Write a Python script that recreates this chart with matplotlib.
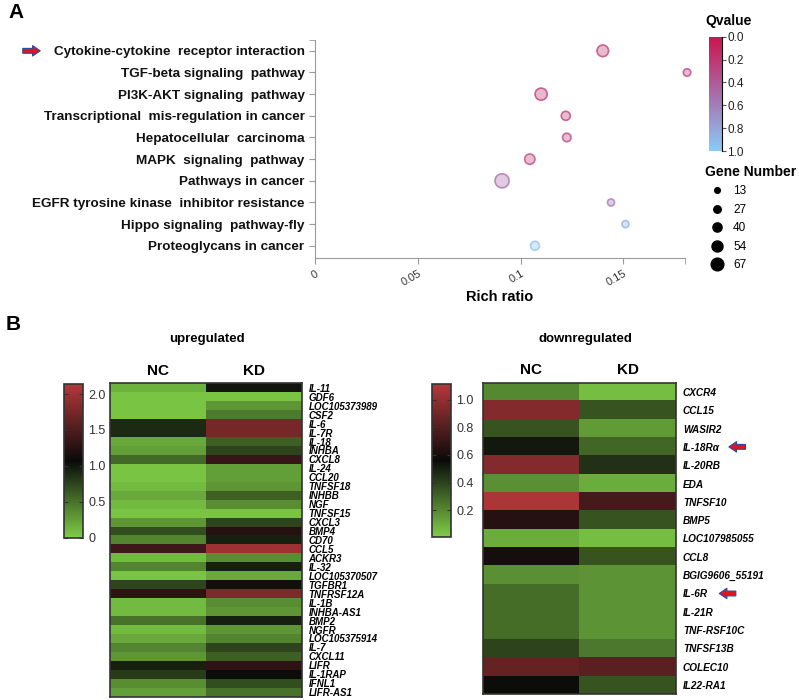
import numpy as np
import matplotlib
matplotlib.use('Agg')
import matplotlib.pyplot as plt
from matplotlib.colors import LinearSegmentedColormap, Normalize, to_rgba
from matplotlib.lines import Line2D

plt.rcParams['font.family'] = ['Liberation Sans', 'DejaVu Sans']

# ---- panel A data ----
terms = ['Cytokine-cytokine  receptor interaction', 'TGF-beta signaling  pathway',
         'PI3K-AKT signaling  pathway', 'Transcriptional  mis-regulation in cancer',
         'Hepatocellular  carcinoma', 'MAPK  signaling  pathway', 'Pathways in cancer',
         'EGFR tyrosine kinase  inhibitor resistance', 'Hippo signaling  pathway-fly',
         'Proteoglycans in cancer']
rich_ratio = [0.140, 0.181, 0.110, 0.122, 0.1225, 0.1045, 0.091, 0.144, 0.151, 0.107]
qvalue = [0.22, 0.25, 0.20, 0.24, 0.28, 0.28, 0.50, 0.55, 0.85, 0.95]
gene_num = [48, 16, 52, 28, 24, 38, 67, 13, 13, 27]
legend_nums = [13, 27, 40, 54, 67]

# ---- panel B data ----
up_genes = ['IL-11', 'GDF6', 'LOC105373989', 'CSF2', 'IL-6', 'IL-7R', 'IL-18', 'INHBA',
            'CXCL8', 'IL-24', 'CCL20', 'TNFSF18', 'INHBB', 'NGF', 'TNFSF15', 'CXCL3',
            'BMP4', 'CD70', 'CCL5', 'ACKR3', 'IL-32', 'LOC105370507', 'TGFBR1',
            'TNFRSF12A', 'IL-1B', 'INHBA-AS1', 'BMP2', 'NGFR', 'LOC105375914', 'IL-7',
            'CXCL11', 'LIFR', 'IL-1RAP', 'IFNL1', 'LIFR-AS1']
up_nc = [0.15, 0.05, 0.05, 0.05, 0.90, 0.90, 0.20, 0.25, 0.55, 0.05, 0.05, 0.10,
         0.20, 0.10, 0.05, 0.30, 0.70, 0.40, 1.40, 0.10, 0.40, 0.05, 0.75, 1.30,
         0.10, 0.10, 0.50, 0.10, 0.20, 0.40, 0.30, 0.95, 0.80, 0.35, 0.25]
up_kd = [1.00, 0.05, 0.30, 0.45, 1.75, 1.75, 0.60, 0.75, 1.35, 0.25, 0.25, 0.30,
         0.60, 0.35, 0.05, 0.75, 1.25, 0.95, 2.00, 0.35, 0.95, 0.20, 1.15, 1.80,
         0.35, 0.30, 0.95, 0.30, 0.40, 0.75, 0.60, 1.30, 1.05, 0.70, 0.50]

down_genes = ['CXCR4', 'CCL15', 'WASIR2', 'IL-18R\u03b1', 'IL-20RB', 'EDA', 'TNFSF10',
              'BMP5', 'LOC107985055', 'CCL8', 'BGIG9606_55191', 'IL-6R', 'IL-21R',
              'TNF-RSF10C', 'TNFSF13B', 'COLEC10', 'IL22-RA1']
down_nc = [0.20, 0.95, 0.35, 0.52, 0.95, 0.18, 1.08, 0.65, 0.10, 0.60, 0.18, 0.28,
           0.28, 0.28, 0.40, 0.85, 0.55]
down_kd = [0.05, 0.35, 0.15, 0.30, 0.45, 0.10, 0.75, 0.35, 0.05, 0.35, 0.17, 0.17,
           0.17, 0.17, 0.25, 0.82, 0.35]
arrow_genes = ['IL-18R\u03b1', 'IL-6R']

W, H = 799, 700
fig = plt.figure(figsize=(W / 100, H / 100), dpi=100)


def px(l, t, r, b):
    return [l / W, 1 - b / H, (r - l) / W, (b - t) / H]


# ---------------- panel A ----------------
qcmap = LinearSegmentedColormap.from_list('q', ['#CC1450', '#A86CA8', '#88CCF8'])
qnorm = Normalize(0, 1)


def diam(n):
    return 4.0 + 0.13 * n


ax = fig.add_axes(px(315, 40, 685, 257.7))
ypos = np.arange(len(terms))[::-1]
cols = qcmap(qnorm(np.array(qvalue)))
face = [to_rgba(c, 0.35) for c in cols]
edge = [to_rgba(c, 0.75) for c in cols]
ax.scatter(rich_ratio, ypos, s=[(diam(n) * 0.72 + 1) ** 2 for n in gene_num],
           facecolors=face, edgecolors=edge, linewidths=1.2, zorder=3, clip_on=False)
ax.set_xlim(0, 0.18)
ax.set_ylim(-0.55, 9.5)
ax.set_yticks(ypos, terms, fontsize=9.7, fontweight='bold', color='#111111')
ax.set_xticks([0, 0.05, 0.1, 0.15], ['0', '0.05', '0.1', '0.15'], rotation=30,
              ha='right', rotation_mode='anchor', fontsize=8, color='#333333')
ax.set_xticks([0.18], minor=True)
ax.set_yticks([9.5], minor=True)
for s in ['top', 'right']:
    ax.spines[s].set_visible(False)
for s in ['left', 'bottom']:
    ax.spines[s].set_color('#9a9a9a')
ax.tick_params(which='both', color='#9a9a9a', length=4)
ax.tick_params(axis='x', pad=4)
ax.set_xlabel('Rich ratio', fontsize=10.5, fontweight='bold', labelpad=1)

# arrow next to first term
ax.annotate('', xy=(43 / W, 9), xycoords=('figure fraction', 'data'),
            xytext=(20 / W, 9), textcoords=('figure fraction', 'data'),
            arrowprops=dict(arrowstyle='simple,head_width=0.75,head_length=0.55,tail_width=0.35',
                            fc='#E0141E', ec='#2A4AA8', lw=0.8))

# Qvalue colorbar
cax = fig.add_axes(px(709, 36.7, 721.7, 151))
cb = fig.colorbar(plt.cm.ScalarMappable(norm=qnorm, cmap=qcmap), cax=cax)
cb.outline.set_visible(False)
cax.invert_yaxis()
cb.set_ticks([0, 0.2, 0.4, 0.6, 0.8, 1.0])
cax.yaxis.set_ticklabels(['0.0', '0.2', '0.4', '0.6', '0.8', '1.0'])
cax.tick_params(labelsize=8.5, length=3, color='#555555', pad=1, labelcolor='#222222')
cax.spines['right'].set_visible(True)
fig.text(705 / W, 1 - 21 / H, 'Qvalue', fontsize=10, fontweight='bold', va='center')

handles = [Line2D([], [], ls='none', marker='o', color='black',
                  markersize=diam(n) * 0.72) for n in legend_nums]
leg = fig.legend(handles, [str(n) for n in legend_nums], loc='upper left',
                 bbox_to_anchor=(700 / W, 1 - 160 / H), frameon=False,
                 title='Gene Number', fontsize=8.5, labelspacing=0.55,
                 handletextpad=0.4, borderaxespad=0,
                 title_fontproperties={'weight': 'bold', 'size': 10})
leg._legend_box.align = 'left'

fig.text(8 / W, 1 - 13 / H, 'A', fontsize=15, fontweight='bold', va='center')
fig.text(6 / W, 1 - 325 / H, 'B', fontsize=15, fontweight='bold', va='center')

# ---------------- panel B ----------------
hcmap = LinearSegmentedColormap.from_list('h', ['#7ECC46', '#0A0A0A', '#B4383A'])


def heat(box, cbox, genes, nc, kd, vmin, vmax, ticks, title, tx, fs):
    hax = fig.add_axes(px(*box))
    data = np.column_stack([nc, kd])
    norm = Normalize(vmin, vmax)
    hax.imshow(data, cmap=hcmap, norm=norm, aspect='auto', interpolation='nearest')
    hax.xaxis.tick_top()
    hax.set_xticks([0, 1], ['NC', 'KD'], fontsize=11, fontweight='bold')
    hax.yaxis.tick_right()
    hax.set_yticks(range(len(genes)), genes, fontsize=fs, fontweight='bold',
                   fontstyle='italic')
    hax.tick_params(length=0, pad=5)
    hax.tick_params(axis='x', pad=4)
    for s in hax.spines.values():
        s.set_color('#333333')
        s.set_linewidth(1.2)
    fig.text(tx / W, 1 - 339 / H, title, fontsize=9.5, fontweight='bold',
             ha='center', va='center')
    c_ax = fig.add_axes(px(*cbox))
    c = fig.colorbar(plt.cm.ScalarMappable(norm=norm, cmap=hcmap), cax=c_ax)
    c.set_ticks(ticks)
    c_ax.yaxis.set_ticklabels([('%.1f' % t) if t != 0 else '0' for t in ticks])
    c_ax.tick_params(labelsize=9, length=3, direction='in', left=True, right=True,
                     color='#333333', labelcolor='#333333', pad=4)
    c.outline.set_edgecolor('#333333')
    c.outline.set_linewidth(1.2)
    return hax


heat((110, 383.3, 301.7, 696.7), (64, 384, 82.7, 537.7), up_genes, up_nc, up_kd,
     0, 2.14, [0, 0.5, 1.0, 1.5, 2.0], 'upregulated', 207, 7)
rax = heat((483.3, 382.7, 676, 694.3), (432, 384.3, 450.7, 536.7), down_genes, down_nc,
           down_kd, 0.01, 1.11, [0.2, 0.4, 0.6, 0.8, 1.0], 'downregulated', 585, 7.2)

tips = {'IL-18R\u03b1': (1.26, 1.375), 'IL-6R': (1.21, 1.325)}
for g in arrow_genes:
    row = down_genes.index(g)
    tip, tail = tips[g]
    rax.annotate('', xy=(tip, row), xycoords=('axes fraction', 'data'),
                 xytext=(tail, row), textcoords=('axes fraction', 'data'),
                 arrowprops=dict(arrowstyle='simple,head_width=0.75,head_length=0.55,tail_width=0.35',
                                 fc='#E0141E', ec='#2A4AA8', lw=0.8),
                 annotation_clip=False)

fig.savefig('out.png', dpi=100)
